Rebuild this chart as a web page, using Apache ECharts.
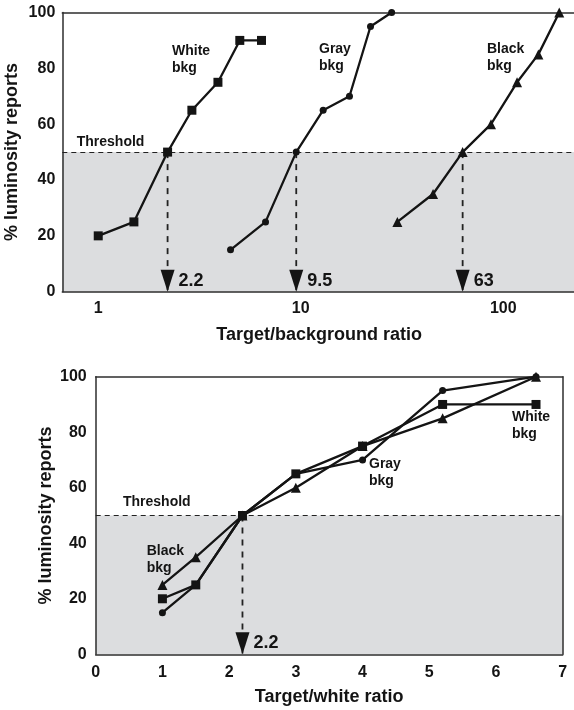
<!DOCTYPE html>
<html>
<head>
<meta charset="utf-8">
<script src="https://cdn.jsdelivr.net/npm/echarts@6/dist/echarts.min.js"></script>
<style>
  html, body { margin: 0; padding: 0; background: #fff; }
  #chart { width: 574px; height: 710px; }
</style>
</head>
<body>
<div id="chart"></div>
<script>
// Target/background ratio at each report level, per background
const bkgWhiteX = [1, 1.5, 2.2, 2.9, 3.9, 5, 6.4];
const bkgGrayX = [4.5, 6.7, 9.5, 12.9, 17.4, 22.1, 28.1];
const bkgBlackX = [30, 45, 63, 87, 117, 149, 189];
// Same measurements expressed as target/white ratio
const whiteRatioX = [1, 1.5, 2.2, 3, 4, 5.2, 6.6];
// % luminosity reports
const pctWhite = [20, 25, 50, 65, 75, 90, 90];
const pctGray = [15, 25, 50, 65, 70, 95, 100];
const pctBlack = [25, 35, 50, 60, 75, 85, 100];
// 50% threshold and the ratios where each curve crosses it
const threshold = 50;
const crossTop = [2.2, 9.5, 63];
const crossBottom = [2.2];
// Tick labels
const yTicks = [0, 20, 40, 60, 80, 100];
const topXTicks = [1, 10, 100];
const bottomXTicks = [0, 1, 2, 3, 4, 5, 6, 7];

const FONT = 'Liberation Sans, Arial, Helvetica, sans-serif';
const INK = '#141414';
const AXIS = '#2e2e2e';
const SHADE = '#dcdddf';

const zip = (xs, ys) => xs.map((x, i) => [x, ys[i]]);

const labelStyle = { fontFamily: FONT, fontWeight: 'bold', fontSize: 16, color: INK };
const nameStyle = { fontFamily: FONT, fontWeight: 'bold', fontSize: 18, color: INK };
const axisLine = { show: true, lineStyle: { color: AXIS, width: 1.5 } };

// Top panel: log x axis, bottom panel: linear 0..7
const topMin = 0.6646, topMax = 228.6;

function yAxisFor(grid, gap, margin) {
  return {
    type: 'value', gridIndex: grid, min: 0, max: 100, interval: 20,
    z: 4,
    axisLine: axisLine, axisTick: { show: false }, splitLine: { show: false },
    axisLabel: Object.assign({ margin: margin,
      formatter: v => (yTicks.indexOf(v) >= 0 ? String(v) : '') }, labelStyle),
    name: '% luminosity reports', nameLocation: 'middle', nameGap: gap,
    nameMoveOverlap: false,
    nameTextStyle: nameStyle
  };
}

const bareLine = { show: true, onZero: false, lineStyle: { color: AXIS, width: 1.5 } };

const option = {
  animation: false,
  backgroundColor: '#fff',
  grid: [
    { left: 62.3, right: -2, top: 12.5, bottom: 418.3, outerBoundsMode: 'none', containLabel: false },
    { left: 95.7, right: 11.3, top: 376.7, bottom: 55.7, outerBoundsMode: 'none', containLabel: false }
  ],
  xAxis: [
    {
      type: 'log', gridIndex: 0, logBase: 10, min: topMin, max: topMax, z: 4,
      axisLine: Object.assign({ onZero: false }, axisLine),
      axisTick: { show: false }, splitLine: { show: false }, minorTick: { show: false },
      axisLabel: Object.assign({ margin: 9, showMinLabel: false, showMaxLabel: false,
        formatter: v => (topXTicks.some(t => Math.abs(t - v) < 1e-6) ? String(Math.round(v)) : '') }, labelStyle),
      name: 'Target/background ratio', nameLocation: 'middle', nameGap: 34,
      nameMoveOverlap: false,
      nameTextStyle: nameStyle
    },
    {
      type: 'value', gridIndex: 1, min: 0, max: 7, interval: 1, z: 4,
      axisLine: Object.assign({ onZero: false }, axisLine),
      axisTick: { show: false }, splitLine: { show: false },
      axisLabel: Object.assign({ margin: 10,
        formatter: v => (bottomXTicks.indexOf(v) >= 0 ? String(v) : '') }, labelStyle),
      name: 'Target/white ratio', nameLocation: 'middle', nameGap: 34,
      nameMoveOverlap: false,
      nameTextStyle: nameStyle
    },
    // frame lines along the top edges
    { type: 'log', gridIndex: 0, position: 'top', min: topMin, max: topMax, z: 4,
      axisLine: bareLine, axisTick: { show: false }, axisLabel: { show: false }, splitLine: { show: false } },
    { type: 'value', gridIndex: 1, position: 'top', min: 0, max: 7, z: 4,
      axisLine: bareLine, axisTick: { show: false }, axisLabel: { show: false }, splitLine: { show: false } }
  ],
  yAxis: [
    yAxisFor(0, 41, 7),
    yAxisFor(1, 41, 9),
    { type: 'value', gridIndex: 1, position: 'right', min: 0, max: 100, z: 4,
      axisLine: bareLine, axisTick: { show: false }, axisLabel: { show: false }, splitLine: { show: false } }
  ],
  series: []
};

// Shaded region below threshold plus the dashed threshold line
[0, 1].forEach(g => {
  option.series.push({
    type: 'line', xAxisIndex: g, yAxisIndex: g, z: 1,
    data: [], silent: true,
    markArea: {
      silent: true,
      itemStyle: { color: SHADE, opacity: 1 },
      data: [[{ yAxis: 0 }, { yAxis: threshold }]]
    },
    markLine: {
      silent: true, symbol: 'none',
      label: { show: false },
      lineStyle: { color: '#222', width: 1.2, type: [5, 4], opacity: 1 },
      data: [{ yAxis: threshold }]
    }
  });
});

// Dashed drop lines with arrowheads and value labels
function addArrows(g, xs) {
  xs.forEach(x => {
    option.series.push({
      type: 'line', xAxisIndex: g, yAxisIndex: g, z: 3, silent: true,
      data: [[x, threshold], [x, 0]], showSymbol: false, symbol: 'none',
      lineStyle: { color: '#222', width: 1.8, type: [6, 6] }
    });
  });
  option.series.push({
    type: 'scatter', xAxisIndex: g, yAxisIndex: g, z: 5, silent: true,
    data: xs.map(x => [x, 0]),
    symbol: 'path://M0,0 L14,0 L7,22 Z',
    symbolSize: [14, 22], symbolOffset: [0, -11],
    itemStyle: { color: INK, opacity: 1 },
    label: {
      show: true, position: 'right', distance: 4,
      formatter: p => String(p.value[0]),
      fontFamily: FONT, fontWeight: 'bold', fontSize: 18, color: INK
    }
  });
}
addArrows(0, crossTop);
addArrows(1, crossBottom);

// Data curves
function curve(g, data, symbol, size) {
  option.series.push({
    type: 'line', xAxisIndex: g, yAxisIndex: g, z: 6, silent: true,
    data: data, symbol: symbol, symbolSize: size, showAllSymbol: true,
    lineStyle: { color: INK, width: 2.3 },
    itemStyle: { color: INK, opacity: 1 }
  });
}
curve(0, zip(bkgWhiteX, pctWhite), 'rect', 9);
curve(0, zip(bkgGrayX, pctGray), 'circle', 7);
curve(0, zip(bkgBlackX, pctBlack), 'triangle', 10);
curve(1, zip(whiteRatioX, pctWhite), 'rect', 9);
curve(1, zip(whiteRatioX, pctGray), 'circle', 7);
curve(1, zip(whiteRatioX, pctBlack), 'triangle', 10);

// Curve annotations
function note(text, x, yMid) {
  return {
    type: 'text', left: x, top: yMid - 8.5, z: 10, silent: true,
    style: { text: text, fontFamily: FONT, fontWeight: 'bold', fontSize: 14,
      lineHeight: 17, fill: INK }
  };
}
option.graphic = [
  note('White\nbkg', 172, 50.8),
  note('Gray\nbkg', 319, 49),
  note('Black\nbkg', 487, 49),
  note('Threshold', 76.7, 141.7),
  note('Threshold', 123, 502.5),
  note('Black\nbkg', 146.7, 551),
  note('Gray\nbkg', 369, 464),
  note('White\nbkg', 512, 417)
];

const chart = echarts.init(document.getElementById('chart'), null, { renderer: 'canvas' });
chart.setOption(option);
</script>
</body>
</html>
